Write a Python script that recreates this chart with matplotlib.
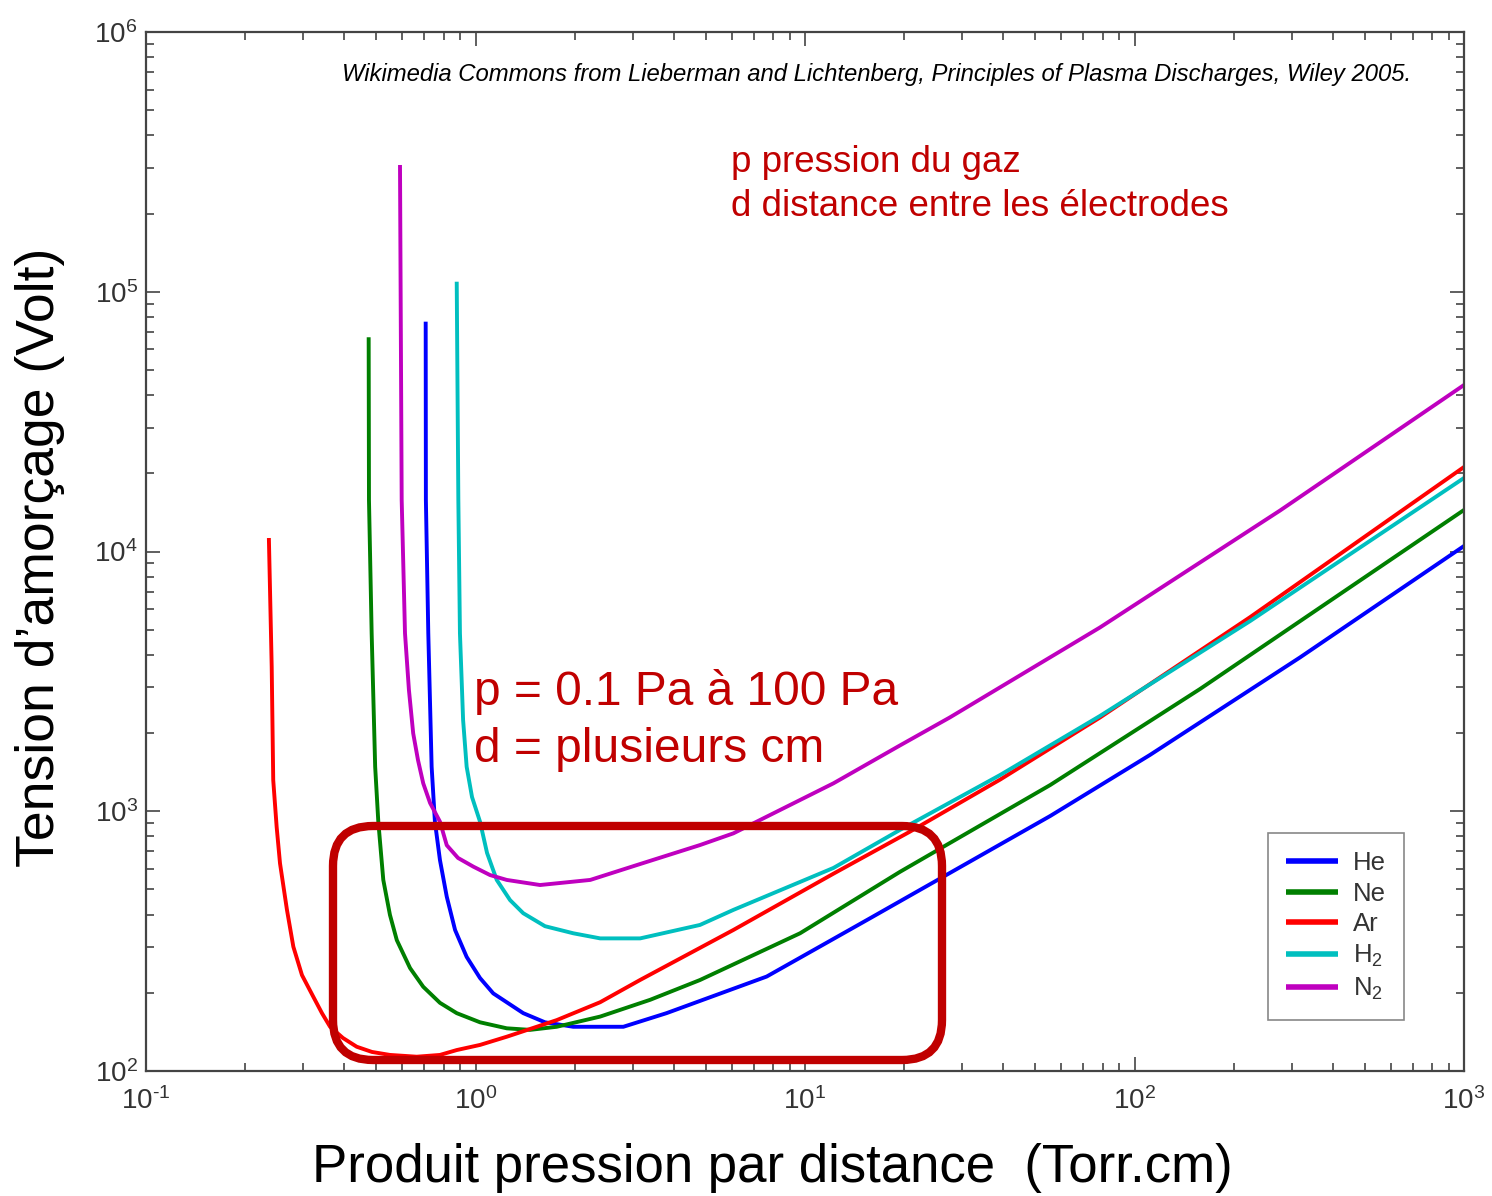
import matplotlib
matplotlib.use('Agg')
import matplotlib.pyplot as plt
import matplotlib.patches as mpatches
import matplotlib.transforms as mtransforms

plt.rcParams['font.family'] = ['Liberation Sans', 'DejaVu Sans']
plt.rcParams['mathtext.fontset'] = 'custom'
plt.rcParams['mathtext.rm'] = 'Liberation Sans'
plt.rcParams['mathtext.it'] = 'Liberation Sans:italic'

# Paschen curves, values (pd in Torr.cm, V in volts)
he_pd = [0.706, 0.707, 0.719, 0.736, 0.753, 0.780, 0.818, 0.867, 0.940, 1.032, 1.132, 1.396, 1.625, 1.98,
         2.81, 3.80, 7.65, 15.4, 26.3, 55.5, 111.4, 317.7, 1000]
he_v = [76700, 15800, 4842, 1484, 912, 649, 469, 349, 275, 228, 199, 167, 154, 148,
        148, 167, 231, 381, 560, 959, 1647, 3908, 10500]

ne_pd = [0.474, 0.475, 0.484, 0.496, 0.507, 0.525, 0.550, 0.577, 0.633, 0.694, 0.780, 0.877, 1.032, 1.244,
         1.464, 1.764, 2.39, 3.39, 4.80, 9.66, 19.4, 55.5, 158.1, 1000]
ne_v = [66800, 15800, 4842, 1484, 912, 544, 399, 319, 249, 211, 183, 167, 154, 146,
        144, 148, 162, 188, 224, 339, 584, 1262, 2956, 14450]

ar_pd = [0.236, 0.2407, 0.2433, 0.2492, 0.2551, 0.2678, 0.280, 0.2974, 0.322, 0.342, 0.362, 0.396, 0.436,
         0.485, 0.550, 0.663, 0.780, 0.877, 1.032, 1.244, 1.764, 2.39, 3.157, 6.06, 12.2, 20.8, 39.1, 78.5,
         224.4, 1000]
ar_v = [11270, 3601, 1318, 869, 630, 417, 301, 234, 193, 167, 148, 134, 124,
        118.4, 115.3, 113.5, 115.3, 120.4, 126, 135.5, 157, 184, 224, 349, 575, 834, 1324, 2294,
        5590, 21150]

h2_pd = [0.877, 0.887, 0.897, 0.917, 0.940, 0.976, 1.032, 1.084, 1.16, 1.273, 1.396, 1.625, 1.98, 2.39,
         3.16, 4.80, 6.06, 12.2, 19.4, 39.1, 78.5, 224.4, 1000]
h2_v = [109300, 15800, 4842, 2245, 1484, 1134, 912, 691, 544, 455, 405, 361, 339, 324,
        324, 365, 417, 605, 847, 1379, 2326, 5399, 19190]

n2_pd = [0.590, 0.597, 0.611, 0.628, 0.647, 0.669, 0.694, 0.728, 0.780, 0.818, 0.885, 0.985, 1.107, 1.244,
         1.57, 2.23, 3.08, 4.80, 6.06, 12.2, 19.4, 27.5, 78.5, 276.5, 1000]
n2_v = [307600, 15800, 4842, 2930, 1995, 1575, 1281, 1076, 912, 740, 661, 612, 568, 544,
        520, 544, 620, 741, 822, 1281, 1791, 2296, 5097, 14380, 43750]

gases = ['He', 'Ne', 'Ar', 'H$_2$', 'N$_2$']
colors = ['#0000ff', '#007f00', '#ff0000', '#00bfbf', '#bf00bf']

xticks = [0.1, 1, 10, 100, 1000]
xtick_labels = ['$10^{\\text{-}1}$', '$10^{0}$', '$10^{1}$', '$10^{2}$', '$10^{3}$']
yticks = [100, 1000, 10000, 100000, 1000000]
ytick_labels = ['$10^{2}$', '$10^{3}$', '$10^{4}$', '$10^{5}$', '$10^{6}$']

W, H = 1492, 1196
fig = plt.figure(figsize=(W / 100, H / 100), dpi=100)
ax = fig.add_axes([146 / W, 1 - 1071 / H, (1464 - 146) / W, (1071 - 32) / H])

for pd_, v_, c, name in zip([he_pd, ne_pd, ar_pd, h2_pd, n2_pd],
                            [he_v, ne_v, ar_v, h2_v, n2_v], colors, gases):
    ax.plot(pd_, v_, color=c, lw=2.8, label=name, solid_capstyle='butt', solid_joinstyle='round')

ax.set_xscale('log')
ax.set_yscale('log')
ax.set_xlim(0.1, 1000)
ax.set_ylim(100, 1e6)
ax.set_xticks(xticks)
ax.set_xticklabels(xtick_labels)
ax.set_yticks(yticks)
ax.set_yticklabels(ytick_labels)
ax.tick_params(which='both', direction='in', top=True, right=True, color='#444444', width=1.2)
ax.tick_params(which='major', length=10)
ax.tick_params(which='minor', length=6)
ax.tick_params(axis='x', which='major', pad=12, labelsize=20, labelcolor='#333333')
ax.tick_params(axis='y', which='major', pad=6, labelsize=20, labelcolor='#333333')
for s in ax.spines.values():
    s.set_color('#444444')
    s.set_linewidth(1.6)

leg = ax.legend(loc='lower right', bbox_to_anchor=((1404 - 146) / 1318, (1071 - 1020) / 1039),
                borderaxespad=0, fancybox=False, framealpha=1, edgecolor='#888888',
                fontsize=18.5, handlelength=2.0, handletextpad=0.6, labelspacing=0.26, borderpad=0.7)
leg.get_frame().set_linewidth(1.2)
for l in leg.get_lines():
    l.set_linewidth(4)
for t in leg.get_texts():
    t.set_color('#333333')

def px(x, y):
    return x / W, 1 - y / H

fig.text(*px(342, 74), 'Wikimedia Commons from Lieberman and Lichtenberg, Principles of Plasma Discharges, Wiley 2005.',
         fontsize=17.2, style='italic', va='center', ha='left')
fig.text(*px(731, 162), 'p pression du gaz', fontsize=26.5, color='#c00000', va='center')
fig.text(*px(731, 206), 'd distance entre les électrodes', fontsize=26.5, color='#c00000', va='center')
fig.text(*px(474, 692), 'p = 0.1 Pa à 100 Pa', fontsize=34.5, color='#c00000', va='center')
fig.text(*px(474, 749), 'd = plusieurs cm', fontsize=34.5, color='#c00000', va='center')

fig.text(*px(40, 557), 'Tension d’amorçage (Volt)', fontsize=38.5, rotation=90, va='center', ha='center')
fig.text(*px(772, 1168), 'Produit pression par distance  (Torr.cm)', fontsize=38, va='center', ha='center')

# rounded box highlighting the low pressure region
box = mpatches.FancyBboxPatch((333, H - 1060), 942 - 333, 1060 - 826,
                              boxstyle='round,pad=0,rounding_size=40',
                              fill=False, edgecolor='#c00000', lw=6,
                              transform=mtransforms.IdentityTransform(), zorder=10)
fig.add_artist(box)

fig.savefig('out.png', dpi=100)
